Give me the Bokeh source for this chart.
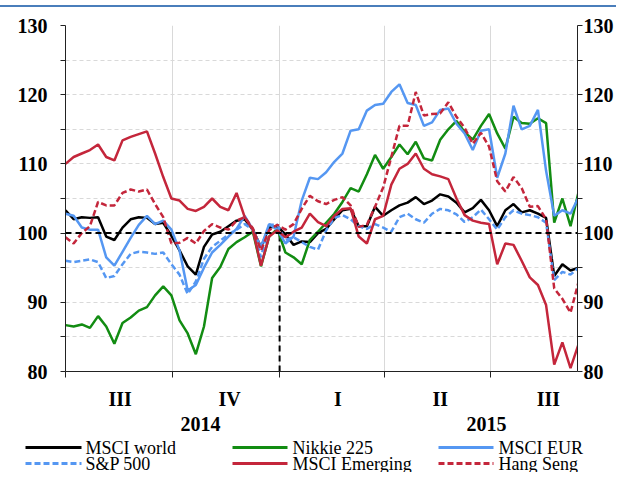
from bokeh.plotting import figure
from bokeh.models import Range1d, LinearAxis, FixedTicker, Span, Div
from bokeh.layouts import column, row
from bokeh.embed import file_html
from bokeh.resources import INLINE
from bokeh.core.properties import value

# x: days since 1 July 2014, weekly observations
days = list(range(0, 442, 7))

msci_world = [103.3, 102, 102.3, 102.2, 102.3, 99.5, 99.0, 100.8, 102, 102.3,
              102.2, 101.3, 101.5, 99.6, 97.5, 95.2, 94.0, 98, 99.8, 100.2,
              101, 101.8, 102, 100.5, 98, 100.8, 101, 99.8, 98.3, 98.8,
              98.7, 100, 100.6, 102, 103.3, 103.5, 101, 101, 103.8, 102.5,
              103.3, 104, 104.4, 105.2, 104.2, 104.7, 105.6, 105.3, 104.4, 103,
              103.6, 104.8, 103.3, 101, 103.3, 104.2, 103, 103.3, 102.8, 102.2,
              93.8, 95.5, 94.6, 95]
nikkei_225 = [86.7, 86.5, 86.8, 86.3, 88, 86.5, 84.0, 87, 87.8, 88.8,
              89.3, 91, 92.3, 91, 87.4, 85.5, 82.5, 86.5, 93.5, 95.1,
              97.7, 98.7, 99.4, 100.2, 95.2, 99.5, 100.6, 97.2, 96.5, 95.5,
              99, 100.2, 101.5, 102.8, 104.5, 106.5, 106, 108.5, 111.3, 109.3,
              111, 112.8, 111.4, 113.2, 110.8, 110.5, 113.5, 115, 116.2, 114.6,
              113.5, 115.5, 117.2, 114.4, 112.2, 116.8, 115.9, 115.8, 116.6, 115.9,
              101.5, 105, 101, 106]
msci_eur = [102.8, 102.5, 100.8, 100.5, 100.5, 96.5, 95.3, 97.3, 99.3, 101.2,
            102.5, 101.3, 101.8, 100.5, 97.5, 91.7, 92.5, 95, 97.2, 98.3,
            99.5, 100.6, 102.5, 100.5, 98, 101.3, 100.5, 98.5, 99.5, 104.7,
            108, 107.8, 108.8, 110.3, 111.5, 114.8, 115, 117.7, 118.5, 118.7,
            120.4, 121.5, 118.8, 118.5, 115.5, 116, 117.8, 118, 115.8, 114.4,
            112, 114.8, 115, 108, 111.5, 118.4, 115, 115.5, 117.8, 109,
            102.5, 103.3, 102.8, 105.2]
sp_500 = [96, 95.8, 96, 96.2, 95.8, 93.5, 93.8, 95.5, 97, 97.3,
          97.2, 97, 97.2, 95.5, 94, 91.2, 93, 96.3, 98, 98.9,
          99.8, 100.5, 101.3, 100.5, 96.5, 101.2, 101.2, 99, 99.4, 98.7,
          98, 97.6, 100.4, 102.2, 102.6, 102, 101, 100.6, 101.3, 100.8,
          100.2, 102.3, 102.8, 102, 101.5, 102.8, 103.5, 103.3, 102.7, 101.6,
          102.3, 103.4, 102, 100.5, 102.3, 103.3, 102.8, 102.6, 102.3, 101.5,
          93.2, 94.4, 94, 95]
msci_emerging = [110, 111, 111.5, 112, 112.8, 111, 110.5, 113.4, 113.9, 114.3,
                 114.7, 111.5, 108.1, 105, 104.7, 103.5, 103.2, 103.8, 105, 103.8,
                 103.3, 105.8, 102.3, 100.5, 95.3, 99.5, 100.4, 99.4, 100.2, 100.8,
                 102.8, 101.6, 101, 102.5, 103.5, 103.6, 99.5, 98.5, 102, 102.5,
                 107, 109.3, 110, 111.5, 109.3, 108.5, 108.2, 107.8, 105, 102.6,
                 101.8, 101.5, 101.3, 95.5, 98.5, 98.3, 96, 93.6, 92.5, 89.6,
                 81, 84.2, 80.5, 84]
hang_seng = [99.4, 98.5, 100, 101, 104.5, 104, 104, 105.8, 106.3, 106,
             106.3, 104.2, 102.3, 98.5, 98.6, 99.3, 98.5, 100.3, 101.3, 100.8,
             100.5, 101.8, 102.3, 100.7, 97.5, 100.4, 101.2, 100.5, 101.3, 103.5,
             105.4, 104.6, 104.2, 104.8, 105.2, 104, 100.9, 101.2, 103.8, 106.6,
             111, 115.5, 115.5, 120.4, 117, 117.2, 117.3, 118.9, 116.8, 115.2,
             112.9, 114.5, 112.5, 107.5, 106, 108.1, 106.5, 103.8, 103.9, 102,
             92, 90.5, 88.5, 93]

quarter_starts = [0, 92, 184, 274, 365]
quarter_label_days = [47, 141, 234, 322, 415]
quarter_labels = ["III", "IV", "I", "II", "III"]
year_labels = ["2014", "2015"]
y_ticks = [80, 90, 100, 110, 120, 130]
y_minor = [85, 95, 105, 115, 125]
y_grid = [80, 85, 90, 95, 100, 105, 110, 115, 120, 125, 130]
BASE = 100
YEAR_START = 184

series = [
    ("MSCI world", msci_world, "#000000", "solid", 0, 0),
    ("Nikkie 225", nikkei_225, "#128c12", "solid", 1, 0),
    ("MSCI EUR", msci_eur, "#5597f2", "solid", 2, 0),
    ("S&P 500", sp_500, "#5597f2", "6 3", 0, 1),
    ("MSCI Emerging", msci_emerging, "#c4263b", "solid", 1, 1),
    ("Hang Seng", hang_seng, "#c4263b", "6 3", 2, 1),
]

FONT = "Liberation Serif"
W = 616

# thin blue rule at the top of the page
top = Div(width=W, height=2, margin=(5, 0, 0, 0), styles={"background-color": "#4a7ebb"})

p = figure(width=W, height=406, x_range=Range1d(0, 440), y_range=Range1d(80, 130),
           output_backend="svg", toolbar_location=None,
           min_border_left=65, min_border_right=36, min_border_top=18, min_border_bottom=42)
p.outline_line_color = None
p.background_fill_color = "white"

p.xgrid.ticker = FixedTicker(ticks=quarter_starts[1:])
p.xgrid.grid_line_color = "#d9d9d9"
p.xgrid.grid_line_width = 1
p.ygrid.ticker = FixedTicker(ticks=y_grid)
p.ygrid.grid_line_color = "#d9d9d9"
p.ygrid.grid_line_dash = "4 3"

xa = p.xaxis[0]
xa.ticker = FixedTicker(ticks=quarter_label_days, minor_ticks=quarter_starts)
xa.major_label_overrides = dict(zip(quarter_label_days, quarter_labels))
xa.major_tick_line_color = None
xa.major_tick_out = 0
xa.major_tick_in = 0
xa.minor_tick_out = 6
xa.minor_tick_in = 0
xa.minor_tick_line_color = "#222222"
xa.axis_line_color = "#222222"
xa.major_label_standoff = 10
xa.major_label_text_font = FONT
xa.major_label_text_font_style = "bold"
xa.major_label_text_font_size = "20px"
xa.major_label_text_color = "black"

def style_y(ax, standoff):
    ax.ticker = FixedTicker(ticks=y_ticks, minor_ticks=y_minor)
    ax.major_tick_out = 5
    ax.major_tick_in = 0
    ax.minor_tick_out = 5
    ax.minor_tick_in = 0
    ax.axis_line_color = "#222222"
    ax.major_tick_line_color = "#222222"
    ax.minor_tick_line_color = "#222222"
    ax.major_label_text_font = FONT
    ax.major_label_text_font_style = "bold"
    ax.major_label_text_font_size = "20px"
    ax.major_label_text_color = "black"
    ax.major_label_standoff = standoff

style_y(p.yaxis[0], 13)
right = LinearAxis()
style_y(right, 1)
p.add_layout(right, "right")

p.add_layout(Span(location=BASE, dimension="width", line_color="black",
                  line_width=2, line_dash="6 4"))
p.segment(x0=[YEAR_START], y0=[80], x1=[YEAR_START], y1=[BASE],
          line_color="black", line_width=2, line_dash="6 4")

for name, vals, color, dash, c, r in series:
    p.line(days, vals, line_color=color, line_width=2.5, line_dash=dash)

# strip below the chart: year labels and legend (pixel coordinates)
SH = 59
lf = figure(width=W, height=SH, x_range=Range1d(0, W), y_range=Range1d(SH, 0),
            output_backend="svg", toolbar_location=None, min_border=0,
            x_axis_location=None, y_axis_location=None)
lf.grid.visible = False
lf.outline_line_color = None

year_label_px = [200, 486]
lf.text(x=year_label_px, y=[10] * 2, text=year_labels, text_font=value(FONT),
        text_font_style="bold", text_font_size="20px", text_align="center",
        text_baseline="middle", text_color="black")

col_line_x0 = [25, 232, 438]
col_line_x1 = [81, 287, 493]
col_text_x = [85, 292, 498]
row_y = [34, 50]
for name, vals, color, dash, c, r in series:
    lf.segment(x0=[col_line_x0[c]], y0=[row_y[r]], x1=[col_line_x1[c]], y1=[row_y[r]],
               line_color=color, line_width=3, line_dash=dash)
    lf.text(x=[col_text_x[c]], y=[row_y[r]], text=[name], text_font=value(FONT),
            text_font_size="18px", text_baseline="middle", text_align="left",
            text_color="black")

layout = column(top, p, row(lf), spacing=0)
open("out.html", "w").write(file_html(layout, INLINE))
